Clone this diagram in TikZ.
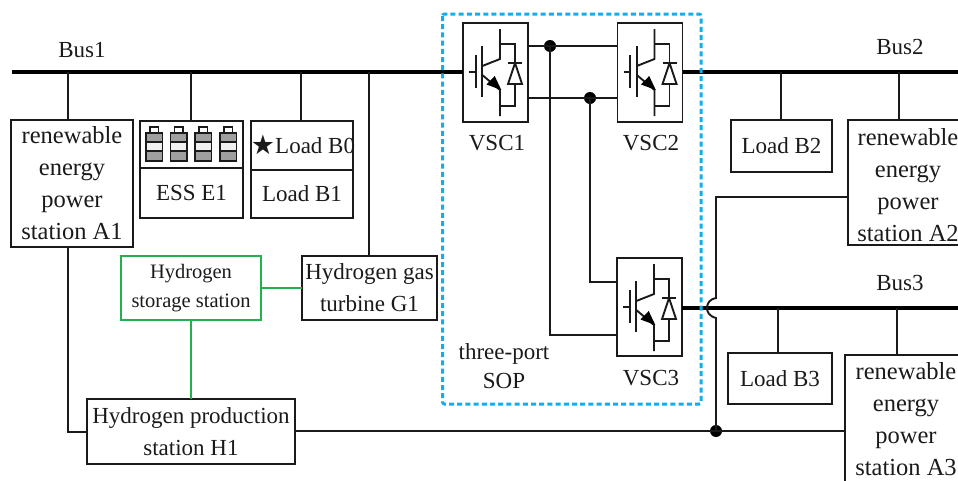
\documentclass[tikz,border=0pt]{standalone}
\usepackage{fontspec}
\setmainfont{Liberation Serif}
\newfontfamily\djv{DejaVu Sans}
\definecolor{ink}{HTML}{1A1A1A}
\definecolor{sopblue}{HTML}{12AEEA}
\definecolor{hgreen}{HTML}{22B14C}
\tikzset{
  wire/.style={line width=1.9pt,draw=ink},
  busline/.style={line width=4.2pt,draw=black},
  greenwire/.style={line width=2pt,draw=hgreen},
  boxed/.style={draw=ink,line width=1.9pt,anchor=north west,inner sep=0pt,outer sep=0pt,align=center,text=ink},
  txt/.style={inner sep=0pt,text=ink,align=center},
  big/.style={font=\fontsize{24.5}{32}\selectfont},
  mid/.style={font=\fontsize{23}{32}\selectfont},
  small/.style={font=\fontsize{20.5}{28.5}\selectfont},
  dot/.style={circle,fill=black,inner sep=0pt,minimum size=12pt},
  pics/igbt/.style={code={
    \draw[wire] (6,49)--(12.7,49) (12.7,32)--(12.7,65) (19.3,23)--(19.3,74);
    \draw[wire] (19.3,43)--(37,36)--(37,6);
    \draw[wire] (19.3,52)--(37,67)--(37,93);
    \draw[wire] (37,21)--(52,21)--(52,40) (45,40)--(59,40);
    \draw[wire] (52,40)--(45,61)--(59,61)--cycle;
    \draw[wire] (52,61)--(52,83)--(37,83);
    \fill[black] (38.3,67)--(23.5,61.5)--(31.7,53)--cycle;
  }}
}
\newcommand{\bx}[7]{\node[boxed,#6,minimum width=#4pt,minimum height=#5pt] (#1) at (#2,#3) {#7};}
\begin{document}
\begin{tikzpicture}[x=1pt,y=-1pt]
\useasboundingbox (0,0) rectangle (958,480);
% boxes
\bx{a1}{11}{120}{122}{127}{big}{renewable\\energy\\power\\station A1}
\bx{ess}{140}{121}{103}{97}{mid}{}
\bx{essl}{140}{168}{103}{50}{mid}{ESS E1}
\bx{loadz}{251}{121}{102}{49}{mid}{}
\bx{loada}{251}{170}{102}{48}{mid}{Load B1}
\bx{gt}{302}{256}{135}{64}{mid}{Hydrogen gas\\turbine G1}
\bx{hs}{121}{256}{140}{64}{small,draw=hgreen}{Hydrogen\\storage station}
\bx{hp}{87}{399}{208}{65}{mid}{Hydrogen production\\station H1}
\bx{vsca}{463}{23}{65}{99}{mid}{}
\bx{vscb}{617.5}{23}{65}{99}{mid}{}
\bx{vscc}{617}{258}{65}{98}{mid}{}
\bx{lb}{731}{120}{101}{52}{mid}{Load B2}
\bx{a2}{848}{120}{120}{125}{big}{}
\bx{lc}{728}{353}{104}{51}{mid}{Load B3}
\bx{a3}{845}{355}{125}{130}{big}{}
% texts
\node[txt,big,anchor=north] (a2t) at (908,128) {renewable\\energy\\power\\station A2};
\node[txt,big,anchor=north] (a3t) at (906,362) {renewable\\energy\\power\\station A3};
\node[txt,mid,anchor=west] (b0t) at (275,146) {Load B0};
\node[txt,anchor=center,font=\djv\fontsize{27}{27}\selectfont] (star) at (263,145) {★};
\node[txt,mid] (busa) at (82,50) {Bus1};
\node[txt,mid] (busb) at (900,47) {Bus2};
\node[txt,mid] (busc) at (900,283) {Bus3};
\node[txt,mid] (va) at (497,143) {VSC1};
\node[txt,mid] (vb) at (651,143) {VSC2};
\node[txt,mid] (vc) at (651,378) {VSC3};
\node[txt,font=\fontsize{23}{28.5}\selectfont] (sop) at (504,366) {three-port\\SOP};
% igbt symbols
\pic at (vsca.north west) {igbt};
\pic at (vscb.north west) {igbt};
\pic at (vscc.north west) {igbt};
% batteries
\foreach \bxx in {146,170.5,195,220}{
  \fill[gray!75] (\bxx,133) rectangle ++(16.5,28);
  \fill[gray!12] (\bxx,142) rectangle ++(16.5,9);
  \draw[line width=1.6pt,draw=ink] (\bxx,133) rectangle ++(16.5,28);
  \draw[line width=1.2pt,draw=ink] (\bxx,142) -- ++(16.5,0) (\bxx,151) -- ++(16.5,0);
  \draw[line width=1.6pt,draw=ink] (\bxx+4,133) -- ++(0,-6) -- ++(8.5,0) -- ++(0,6);
}
% buses
\coordinate (bw) at (12,72);
\coordinate (be) at (958,72);
\coordinate (ce) at (958,308);
\draw[busline] (bw) -- (bw -| vsca.west);
\draw[busline] (be -| vscb.east) -- (be);
\draw[busline] (ce -| vscc.east) -- (ce);
% drops
\coordinate (da) at (68,72);
\coordinate (de) at (191,72);
\coordinate (dl) at (301,72);
\coordinate (dg) at (369,72);
\coordinate (dlb) at (781,72);
\coordinate (da2) at (899,72);
\coordinate (dlc) at (778,308);
\coordinate (da3) at (897,308);
\draw[wire] (da) -- (da |- a1.north);
\draw[wire] (de) -- (de |- ess.north);
\draw[wire] (dl) -- (dl |- loadz.north);
\draw[wire] (dg) -- (dg |- gt.north);
\draw[wire] (dlb) -- (dlb |- lb.north);
\draw[wire] (da2) -- (da2 |- a2.north);
\draw[wire] (dlc) -- (dlc |- lc.north);
\draw[wire] (da3) -- (da3 |- a3.north);
% green
\draw[greenwire] (hs.east) -- (gt.west);
\draw[greenwire] (hs.south -| de) -- (hp.north -| de);
% lower network
\coordinate (ha) at (68,432);
\draw[wire] (da |- a1.south) -- (ha) -- (ha -| hp.west);
\coordinate (hr) at (295,431);
\node[dot] (junction) at (716,431) {};
\draw[wire] (hr) -- (hr -| a3.west);
\coordinate (ja) at (716,197);
\draw[wire] (junction.center) -- (716,318) .. controls (709,316) and (707,312) .. (707,308) .. controls (707,303) and (710,299) .. (716,298) -- (ja) -- (ja -| a2.west);
% SOP network
\coordinate (ua) at (528,46);
\coordinate (ub) at (528,98);
\node[dot] (na) at (550,46) {};
\node[dot] (nb) at (590,98) {};
\draw[wire] (ua) -- (ua -| vscb.west);
\draw[wire] (ub) -- (ub -| vscb.west);
\coordinate (vcu) at (617,282);
\coordinate (vcd) at (617,335);
\draw[wire] (na.center) -- (na |- vcd) -- (vcd);
\draw[wire] (nb.center) -- (nb |- vcu) -- (vcu);
% dashed frame
\draw[sopblue,line width=3pt,dash pattern=on 5pt off 3.2pt,rounded corners=2pt] (442.5,14) rectangle (701,404);
\end{tikzpicture}
\end{document}
